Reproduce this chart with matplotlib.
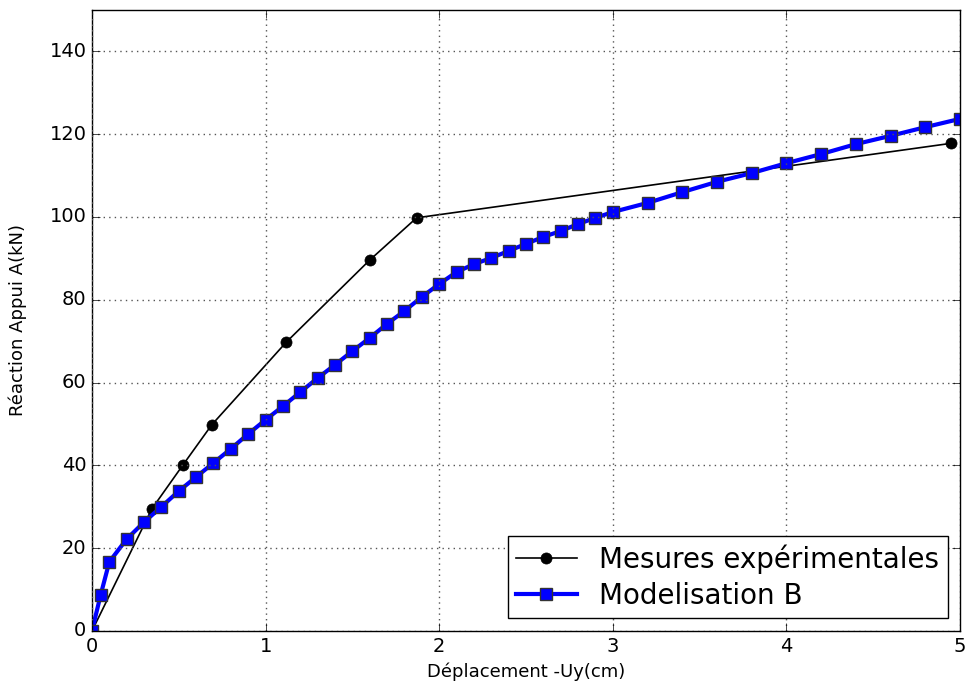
import matplotlib
matplotlib.use("Agg")
import matplotlib.pyplot as plt
import numpy as np

# experimental measurements
mes_x = [0.0, 0.345, 0.524, 0.69, 1.12, 1.6, 1.87, 4.95]
mes_y = [0.0, 29.5, 40.1, 49.8, 69.8, 89.6, 99.8, 117.8]

# model B
mod_x = [0.0, 0.05, 0.1, 0.2, 0.3, 0.4, 0.5, 0.6, 0.7, 0.8, 0.9, 1.0,
         1.1, 1.2, 1.3, 1.4, 1.5, 1.6, 1.7, 1.8, 1.9, 2.0, 2.1, 2.2,
         2.3, 2.4, 2.5, 2.6, 2.7, 2.8, 2.9, 3.0, 3.2, 3.4, 3.6, 3.8,
         4.0, 4.2, 4.4, 4.6, 4.8, 5.0]
mod_y = [0.0, 8.7, 16.7, 22.2, 26.3, 30.0, 33.8, 37.2, 40.6, 44.0, 47.6, 51.0,
         54.3, 57.7, 61.1, 64.3, 67.6, 70.8, 74.2, 77.3, 80.7, 83.8, 86.7, 88.6,
         90.1, 91.8, 93.5, 95.2, 96.6, 98.3, 99.8, 101.2, 103.4, 106.0, 108.5, 110.6,
         113.0, 115.2, 117.6, 119.6, 121.7, 123.7]

plt.style.use('classic')
fig = plt.figure(figsize=(9.67, 6.84), dpi=100, facecolor='white')
ax = fig.add_axes([0.0951, 0.0775, 0.8977, 0.9079])

ax.plot(mes_x, mes_y, color='black', lw=1.2, marker='o', ms=8,
        label=u'Mesures expérimentales')
ax.plot(mod_x, mod_y, color='blue', lw=3, marker='s', ms=8,
        mec='#333333', mew=1, label='Modelisation B')

ax.set_xlim(0, 5)
ax.set_ylim(0, 150)
ax.set_xticks(np.arange(0, 6, 1))
ax.set_yticks(np.arange(0, 160, 20))
ax.grid(True, linestyle=':', color='#555555', lw=1)
ax.tick_params(labelsize=14, direction='in', length=6)

ax.set_xlabel(u'Déplacement -Uy(cm)', fontsize=13)
ax.set_ylabel(u'Réaction Appui A(kN)', fontsize=13, labelpad=16)

leg = ax.legend(loc='lower right', fontsize=20, numpoints=1,
                fancybox=False, borderaxespad=0.45, handlelength=2.2,
                labelspacing=0.3, borderpad=0.3, handletextpad=0.8)
leg.get_frame().set_edgecolor('black')

fig.savefig('out.png', dpi=100, facecolor='white')
